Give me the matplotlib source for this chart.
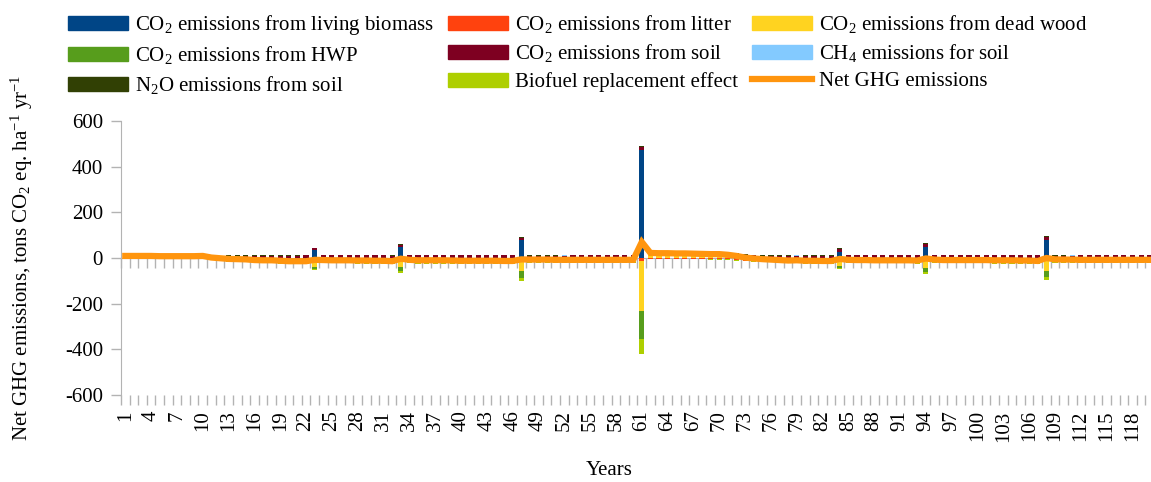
import matplotlib
matplotlib.use('Agg')
import matplotlib.pyplot as plt
from matplotlib.patches import Patch
from matplotlib.lines import Line2D
import numpy as np

plt.rcParams['font.family'] = ['Liberation Serif', 'DejaVu Serif']
plt.rcParams['mathtext.fontset'] = 'custom'
plt.rcParams['mathtext.rm'] = 'Liberation Serif'
plt.rcParams['mathtext.it'] = 'Liberation Serif:italic'
plt.rcParams['axes.unicode_minus'] = False

# years 1..120
years = list(range(1, 121))

# stacked components, tons CO2 eq. per ha per year
living_biomass = [
    0, 0, 0, 0, 0, 0, 0, 0, 0, 0,
    -5, -8, -10, -11, -12, -13, -14, -15, -16, -17,
    -17, -18, 34, -10, -11, -12, -12, -13, -13, -14,
    -14, -15, 46, -11, -12, -12, -13, -13, -13, -14,
    -14, -14, -14, -14, -15, -15, 78, -8, -9, -9,
    -10, -10, -10, -10, -10, -10, -10, -10, -10, -10,
    473, 0, 0, 0, 0, 0, 0, 0, -1, -1,
    -2, -5, -8, -10, -11, -12, -13, -14, -14, -15,
    -15, -16, -16, 28, -10, -11, -11, -12, -12, -12,
    -12, -12, -13, 47, -10, -11, -12, -12, -12, -12,
    -12, -13, -13, -13, -14, -14, -14, 80, -8, -9,
    -9, -10, -10, -10, -10, -10, -10, -10, -10, -10]
litter = [
    1, 1, 1, 1, 1, 1, 1, 1, 1, 1,
    0, -1, -2, -2, -2, -2, -2, -2, -2, -2,
    -2, -2, -3, -3, -3, -2, -2, -2, -2, -2,
    -2, -2, -3, -3, -3, -3, -2, -2, -2, -2,
    -2, -2, -2, -2, -2, -2, -3, -3, -3, -3,
    -3, -2, -2, -2, -2, -2, -2, -2, -2, -2,
    -12, -4, -4, -4, -4, -4, -4, -4, -4, -4,
    -4, -5, -5, -5, -5, -4, -4, -4, -4, -4,
    -4, -4, -4, -3, -3, -3, -3, -3, -3, -3,
    -3, -3, -3, -3, -3, -3, -3, -3, -3, -3,
    -3, -3, -3, -3, -3, -4, -5, -4, -3, -3,
    -3, -3, -3, -3, -3, -3, -3, -3, -3, -3]
dead_wood = [
    0, 0, 0, 0, -1, -1, -1, -1, -1, 0,
    -2, -2, -3, -3, -3, -4, -4, -4, -5, -5,
    -5, -5, -35, -4, -5, -5, -5, -5, -5, -5,
    -5, -5, -38, -4, -5, -5, -5, -5, -5, -5,
    -5, -5, -5, -5, -5, -5, -54, -4, -4, -4,
    -4, -4, -4, -4, -4, -4, -4, -4, -4, -4,
    -218, 14, 14, 14, 13, 13, 13, 12, 12, 12,
    11, 9, 6, 4, 2, 0, -1, -2, -2, -3,
    -3, -3, -3, -32, -4, -4, -4, -4, -4, -4,
    -4, -4, -4, -42, -4, -4, -4, -4, -4, -4,
    -4, -4, -4, -4, -4, -4, -4, -52, -4, -4,
    -4, -4, -4, -4, -4, -4, -4, -4, -4, -4]
hwp = [
    0, 0, 0, 0, 0, 0, 0, 0, 0, 0,
    0, 0, 0, 0, 0, 0, 0, 0, 0, 0,
    0, 0, -9, -1, -1, -1, -1, -1, -1, -1,
    -1, -1, -15, -1, -1, -1, -1, -1, -1, -1,
    -1, -1, -1, -1, -1, -1, -29, -1, -1, -1,
    -1, -1, -1, -1, -1, -1, -1, -1, -1, -1,
    -123, 4, 3, 3, 3, 3, 3, 3, 3, 3,
    2, 2, 1, 1, 0, 0, 0, 0, 0, 0,
    0, 0, 0, -8, -1, -1, -1, -1, -1, -1,
    -1, -1, -1, -15, -1, -1, -1, -1, -1, -1,
    -1, -1, -1, -1, -1, -1, -1, -29, -1, -1,
    -1, -1, -1, -1, -1, -1, -1, -1, -1, -1]
soil = [
    6, 6, 6, 6, 6, 6, 6, 6, 6, 6,
    6, 7, 8, 8, 8, 9, 9, 10, 10, 10,
    10, 11, 8, 11, 12, 12, 12, 12, 11, 11,
    11, 10, 11, 12, 13, 13, 13, 13, 12, 12,
    12, 12, 12, 12, 12, 12, 10, 9, 10, 10,
    10, 10, 11, 11, 11, 11, 11, 11, 11, 11,
    12, 8, 8, 8, 8, 8, 7, 7, 7, 7,
    7, 7, 7, 7, 8, 8, 9, 9, 9, 10,
    10, 10, 10, 11, 12, 12, 12, 12, 11, 11,
    11, 11, 11, 13, 11, 12, 13, 13, 13, 13,
    13, 13, 13, 13, 13, 13, 13, 11, 10, 10,
    10, 12, 12, 12, 12, 12, 12, 12, 12, 12]
ch4 = [
    0, 0, 0, 0, 0, 0, 0, 0, 0, 0,
    0, 0, 0, 0, 0, 0, 0, 0, 0, 0,
    0, 0, 0, 0, 0, 0, 0, 0, 2, 2,
    2, 0, 0, 0, 0, 0, 0, 0, 0, 0,
    0, 0, 0, 0, 0, 0, 0, 0, 0, 0,
    0, 2, 0, 0, 0, 0, 0, 0, 0, 0,
    0, 0, 0, 0, 0, 0, 0, 0, 0, 0,
    0, 0, 0, 0, 0, 0, 0, 0, 2, 0,
    0, 0, 0, 0, 0, 0, 0, 0, 2, 2,
    2, 0, 0, 0, 2, 0, 0, 0, 0, 0,
    0, 0, 0, 0, 0, 0, 0, 0, 0, 0,
    1, 0, 0, 0, 0, 0, 0, 0, 0, 0]
n2o = [
    2, 2, 2, 2, 2, 2, 2, 2, 2, 2,
    3, 3, 4, 4, 4, 3, 3, 3, 3, 3,
    3, 3, 3, 2, 2, 2, 2, 2, 1, 1,
    1, 3, 6, 3, 2, 2, 2, 2, 2, 2,
    2, 2, 2, 2, 2, 2, 5, 4, 4, 4,
    4, 1, 2, 2, 2, 2, 2, 2, 2, 2,
    5, 2, 2, 2, 2, 2, 2, 2, 2, 2,
    2, 3, 3, 3, 3, 3, 3, 3, 2, 3,
    3, 3, 3, 4, 2, 2, 2, 2, 1, 1,
    1, 3, 3, 6, 2, 2, 2, 2, 2, 2,
    2, 2, 2, 2, 2, 2, 2, 5, 4, 4,
    3, 2, 2, 2, 2, 2, 2, 2, 2, 2]
biofuel = [
    0, 0, 0, 0, 0, 0, 0, 0, 0, 0,
    0, 0, -1, -1, -1, -2, -2, -2, -2, -3,
    -3, -3, -6, -4, -4, -4, -4, -4, -4, -4,
    -4, -4, -10, -4, -4, -4, -4, -4, -4, -4,
    -4, -4, -4, -4, -4, -4, -13, -4, -4, -4,
    -4, -4, -4, -4, -4, -4, -4, -4, -4, -4,
    -67, -2, -2, -2, -2, -2, -2, -2, -2, -2,
    -2, -2, -2, -2, -2, -2, -3, -3, -3, -3,
    -3, -3, -3, -4, -4, -4, -4, -4, -4, -4,
    -4, -4, -4, -8, -4, -4, -4, -4, -4, -4,
    -4, -4, -4, -4, -4, -4, -4, -11, -4, -4,
    -4, -4, -4, -4, -4, -4, -4, -4, -4, -4]
net_ghg = [
    9, 9, 9, 9, 8, 8, 8, 8, 8, 9,
    2, -1, -4, -5, -6, -9, -10, -10, -12, -14,
    -14, -14, -8, -9, -10, -10, -10, -11, -11, -12,
    -12, -14, -3, -8, -10, -10, -10, -10, -11, -12,
    -12, -12, -12, -12, -13, -13, -6, -7, -7, -7,
    -8, -8, -8, -8, -8, -8, -8, -8, -8, -8,
    70, 22, 21, 21, 20, 20, 19, 18, 17, 17,
    14, 9, 2, -2, -5, -7, -9, -11, -10, -12,
    -12, -13, -13, -4, -8, -9, -9, -10, -10, -10,
    -10, -10, -11, -2, -7, -9, -9, -9, -9, -9,
    -9, -10, -10, -10, -11, -11, -13, 0, -6, -7,
    -7, -8, -8, -8, -8, -8, -8, -8, -8, -8]

series_labels = ['CO$_2$ emissions from living biomass', 'CO$_2$ emissions from litter',
                 'CO$_2$ emissions from dead wood', 'CO$_2$ emissions from HWP',
                 'CO$_2$ emissions from soil', 'CH$_4$ emissions for soil',
                 'N$_2$O emissions from soil', 'Biofuel replacement effect']
net_label = 'Net GHG emissions'
series_colors = ['#004586', '#ff420e', '#ffd320', '#579d1c',
                 '#7e0021', '#83caff', '#314004', '#aecf00']
net_color = '#ff950e'

y_ticks = [-600, -400, -200, 0, 200, 400, 600]
y_ticklabels = ['-600', '-400', '-200', '0', '200', '400', '600']

gray = '#b3b3b3'

fig = plt.figure(figsize=(11.51, 4.82), dpi=100)
ax = fig.add_axes([121 / 1151, 87 / 482, 1033 / 1151, 274 / 482])

# stacked bars, positives up from 0 and negatives down from 0
x = np.array(years)
pos_base = np.zeros(len(x))
neg_base = np.zeros(len(x))
all_series = [living_biomass, litter, dead_wood, hwp, soil, ch4, n2o, biofuel]
for vals, col in zip(all_series, series_colors):
    v = np.array(vals, dtype=float)
    bottom = np.where(v >= 0, pos_base, neg_base)
    ax.bar(x, v, width=0.6, bottom=bottom, color=col, linewidth=0, zorder=1)
    pos_base = pos_base + np.where(v > 0, v, 0)
    neg_base = neg_base + np.where(v < 0, v, 0)

ax.plot(x, net_ghg, color=net_color, linewidth=4.5, solid_joinstyle='miter', zorder=3)

# axes styling
ax.set_xlim(0.5, 120.5)
ax.set_ylim(-600, 600)
ax.set_yticks(y_ticks)
ax.set_yticklabels(y_ticklabels, fontsize=15)
ax.tick_params(axis='y', length=7, width=1, color=gray, pad=6)
for s in ['top', 'right', 'bottom']:
    ax.spines[s].set_visible(False)
ax.spines['left'].set_color(gray)

boundaries = np.arange(0.5, 121, 1.0)
ax.set_xticks(boundaries)
ax.set_xticklabels([])
ax.tick_params(axis='x', which='major', length=7, width=1, color=gray)
label_years = years[::3]
ax.set_xticks(label_years, minor=True)
ax.set_xticklabels([str(v) for v in label_years], minor=True, rotation=90, fontsize=15)
ax.tick_params(axis='x', which='minor', length=0, pad=11)

# category axis crossing at zero
sec = ax.secondary_xaxis(0.5)
sec.set_xticks(boundaries)
sec.tick_params(axis='x', direction='in', length=7, width=1, color=gray,
                labeltop=False, labelbottom=False)
for s in sec.spines.values():
    s.set_color(gray)

ax.set_ylabel('Net GHG emissions, tons CO$_2$ eq. ha$^{-1}$ yr$^{-1}$', fontsize=15)
ax.yaxis.set_label_coords(-0.083, 0.5)
ax.set_xlabel('Years', fontsize=15, va='top')
ax.xaxis.set_label_coords(0.473, -0.24)

# legend, 3 columns filled row-wise like the original
handles = [Patch(color=c) for c in series_colors] + \
          [Line2D([0], [0], color=net_color, linewidth=4.5)]
labels = series_labels + [net_label]
order = [0, 3, 6, 1, 4, 7, 2, 5, 8]
fig.legend([handles[i] for i in order], [labels[i] for i in order],
           loc='upper left', bbox_to_anchor=(68 / 1151, 1 - 13 / 482),
           ncol=3, frameon=False, fontsize=15, borderpad=0,
           handlelength=2.9, handleheight=0.65, handletextpad=0.3,
           columnspacing=0.68, labelspacing=0.36, borderaxespad=0)

fig.savefig('out.png', dpi=100)
